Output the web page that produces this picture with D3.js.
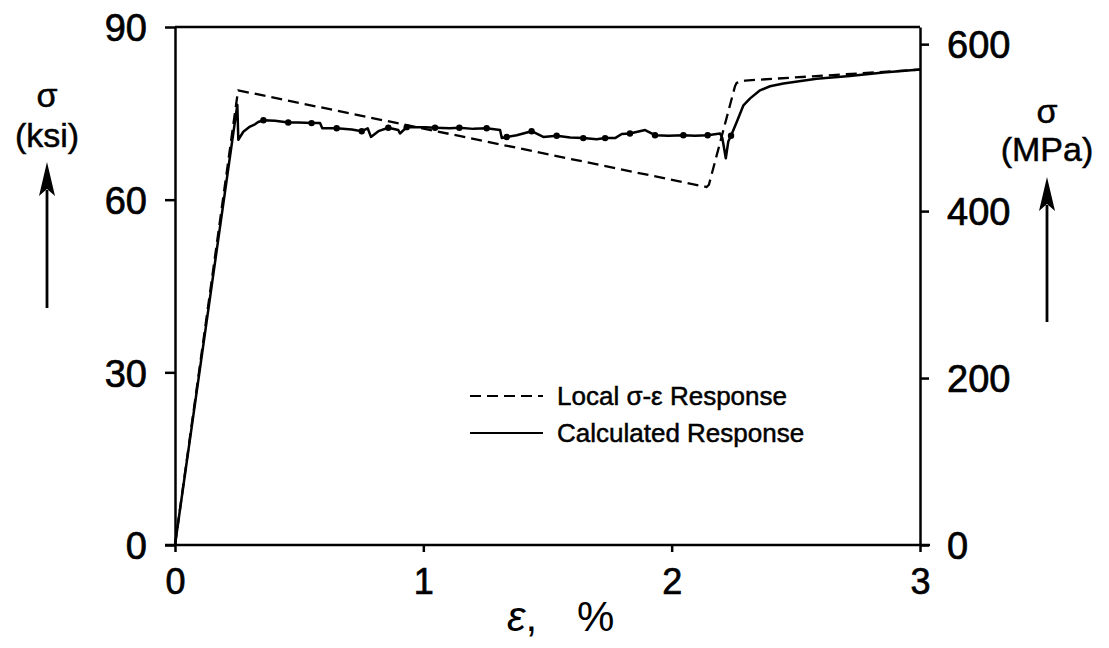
<!DOCTYPE html>
<html>
<head>
<meta charset="utf-8">
<script src="https://cdn.jsdelivr.net/npm/d3@7"></script>
<style>
  html, body { margin: 0; padding: 0; background: #fff; }
  svg { display: block; }
  text { font-family: "Liberation Sans", Arial, Helvetica, sans-serif; fill: #000; }
</style>
</head>
<body>
<svg id="chart" width="1109" height="648"></svg>
<script>
// Strain axis (%) and stress axes (ksi on the left, MPa on the right)
const strainTicks = [0, 1, 2, 3];
const ksiTicks = [0, 30, 60, 90];
const mpaTicks = [0, 200, 400, 600];
const KSI_TO_MPA = 6.895;

// Local sigma-epsilon response (dashed): strain %, stress ksi
const localStrain = [0, 0.254, 2.141, 2.150, 2.255, 2.262, 2.275, 2.296, 3.0];
const localStress = [0, 79.0, 62.2, 62.6, 79.7, 80.3, 80.5, 80.7, 82.6];

// Calculated response (solid): strain %, stress ksi
const calcStrain = [0, 0.251, 0.255, 0.275, 0.302, 0.322, 0.335, 0.356, 0.403, 0.456, 0.497, 0.550, 0.584,
  0.593, 0.651, 0.712, 0.752, 0.776, 0.789, 0.819, 0.859, 0.899, 0.906, 0.933, 1.007, 1.047, 1.107,
  1.145, 1.201, 1.255, 1.309, 1.316, 1.336, 1.376, 1.436, 1.483, 1.537, 1.591, 1.644, 1.698, 1.732,
  1.772, 1.799, 1.832, 1.893, 1.933, 1.987, 2.047, 2.094, 2.145, 2.195, 2.204, 2.218, 2.228, 2.239,
  2.262, 2.289, 2.316, 2.356, 2.396, 2.450, 2.584, 2.718, 2.853, 3.0];
const calcStress = [0, 76.5, 70.4, 71.8, 72.7, 73.1, 73.5, 73.8, 73.7, 73.4, 73.4, 73.3, 73.3,
  72.4, 72.4, 72.2, 71.9, 72.4, 70.9, 71.9, 72.5, 72.1, 71.5, 72.6, 72.6, 72.5, 72.4,
  72.5, 72.3, 72.4, 72.1, 70.7, 70.9, 71.2, 71.9, 70.9, 71.1, 70.8, 70.7, 70.5, 70.7,
  70.7, 71.4, 71.5, 72.1, 71.2, 71.1, 71.2, 71.1, 71.2, 71.5, 70.7, 67.2, 70.1, 71.1,
  73.5, 76.4, 77.6, 79.0, 79.7, 80.2, 81.0, 81.5, 82.1, 82.6];

// Measured points marked along the calculated curve
const dotStrain = [0.356, 0.456, 0.550, 0.651, 0.752, 0.859, 0.933, 1.047, 1.145, 1.255, 1.336, 1.436,
  1.537, 1.644, 1.732, 1.832, 1.933, 2.047, 2.145, 2.239];
const dotStress = [73.8, 73.4, 73.3, 72.4, 71.9, 72.5, 72.6, 72.5, 72.5, 72.4, 70.9, 71.9,
  71.1, 70.7, 70.7, 71.5, 71.2, 71.2, 71.2, 71.1];

const legendLabels = ["Local σ-ε Response", "Calculated Response"];

const svg = d3.select("#chart");
const m = { left: 175, right: 920, top: 27, bottom: 545 };

const x = d3.scaleLinear().domain([0, 3]).range([m.left, m.right]);
const yKsi = d3.scaleLinear().domain([0, 90]).range([m.bottom, m.top]);
const yMpa = d3.scaleLinear().domain([0, 90 * KSI_TO_MPA]).range([m.bottom, m.top]);

// Frame: top edge
svg.append("line")
  .attr("x1", m.left).attr("x2", m.right)
  .attr("y1", m.top).attr("y2", m.top)
  .attr("stroke", "#000").attr("stroke-width", 2.5);

// Slightly heavy text, as in a printed figure
function heavy(sel, w) {
  sel.attr("stroke", "#000").attr("stroke-width", w).attr("paint-order", "stroke");
}

function styleAxis(g, fontSize) {
  g.select(".domain").attr("stroke", "#000").attr("stroke-width", 2.5);
  g.selectAll(".tick line").attr("stroke", "#000").attr("stroke-width", 2.5);
  const t = g.selectAll(".tick text")
    .attr("font-family", "'Liberation Sans', Arial, sans-serif")
    .attr("font-size", fontSize).attr("fill", "#000");
  heavy(t, 0.7);
}

// Left axis (ksi)
const gLeft = svg.append("g").attr("transform", `translate(${m.left},0)`)
  .call(d3.axisLeft(yKsi).tickValues(ksiTicks).tickSize(10).tickSizeOuter(0).tickPadding(18));
styleAxis(gLeft, 38);
gLeft.selectAll(".tick text").attr("dy", "0.36em");

// Right axis (MPa)
const gRight = svg.append("g").attr("transform", `translate(${m.right},0)`)
  .call(d3.axisRight(yMpa).tickValues(mpaTicks).tickSize(9).tickSizeOuter(0).tickPadding(18));
styleAxis(gRight, 38);
gRight.selectAll(".tick text").attr("dy", "0.36em");

// Bottom axis (strain %)
const gBottom = svg.append("g").attr("transform", `translate(0,${m.bottom})`)
  .call(d3.axisBottom(x).tickValues(strainTicks).tickFormat(d3.format("d")).tickSize(7).tickSizeOuter(0).tickPadding(16));
styleAxis(gBottom, 36);
gBottom.select(".domain").attr("d", `M${m.left - 10},0H${m.right + 10}`);

// Curves
const line = d3.line().x(d => x(d[0])).y(d => yKsi(d[1]));
const localData = localStrain.map((s, i) => [s, localStress[i]]);
const calcData = calcStrain.map((s, i) => [s, calcStress[i]]);

svg.append("path").datum(localData)
  .attr("d", line).attr("fill", "none").attr("stroke", "#000")
  .attr("stroke-width", 2.3).attr("stroke-dasharray", "11,6")
  .attr("stroke-linejoin", "round");

svg.append("path").datum(calcData)
  .attr("d", line).attr("fill", "none").attr("stroke", "#000")
  .attr("stroke-width", 2.5).attr("stroke-linejoin", "round");

svg.append("g").selectAll("circle")
  .data(dotStrain.map((s, i) => [s, dotStress[i]]))
  .join("circle")
  .attr("cx", d => x(d[0])).attr("cy", d => yKsi(d[1]))
  .attr("r", 3.2).attr("fill", "#000");

// Legend
const legend = svg.append("g");
const legendY = [396, 433];
legend.append("line")
  .attr("x1", 470).attr("x2", 543).attr("y1", legendY[0]).attr("y2", legendY[0])
  .attr("stroke", "#000").attr("stroke-width", 1.8).attr("stroke-dasharray", "11,6");
legend.append("line")
  .attr("x1", 470).attr("x2", 543).attr("y1", legendY[1]).attr("y2", legendY[1])
  .attr("stroke", "#000").attr("stroke-width", 1.8);
legendLabels.forEach((t, i) => {
  const lt = legend.append("text").attr("x", 557).attr("y", legendY[i]).attr("dy", "0.36em")
    .attr("font-size", 26).text(t);
  heavy(lt, 0.5);
});

// Axis titles with upward arrows
function stressTitle(cx, unit, sigmaBase, unitBase, arrowTop, arrowBottom) {
  const s = svg.append("text").attr("x", cx).attr("y", sigmaBase).attr("text-anchor", "middle")
    .attr("font-size", 34).text("σ");
  const u = svg.append("text").attr("x", cx).attr("y", unitBase).attr("text-anchor", "middle")
    .attr("font-size", 34).text(unit);
  heavy(s, 0.5);
  heavy(u, 0.5);
  const headLen = 34, headHalf = 8;
  svg.append("line")
    .attr("x1", cx).attr("x2", cx).attr("y1", arrowBottom).attr("y2", arrowTop + headLen - 6)
    .attr("stroke", "#000").attr("stroke-width", 2.8);
  svg.append("path")
    .attr("d", `M${cx},${arrowTop} L${cx + headHalf},${arrowTop + headLen} L${cx},${arrowTop + headLen - 7} L${cx - headHalf},${arrowTop + headLen} Z`)
    .attr("fill", "#000");
}
stressTitle(47, "(ksi)", 107, 147, 162, 308);
stressTitle(1047, "(MPa)", 123, 161, 177, 322);

// Strain axis title
const xt = svg.append("text").attr("x", 507).attr("y", 631)
  .attr("font-family", "'Liberation Serif', 'DejaVu Serif', serif").attr("font-size", 42);
xt.append("tspan").attr("font-style", "italic").text("ε");
xt.append("tspan").text(",");
xt.append("tspan").attr("x", 577).text("%");
</script>
</body>
</html>
